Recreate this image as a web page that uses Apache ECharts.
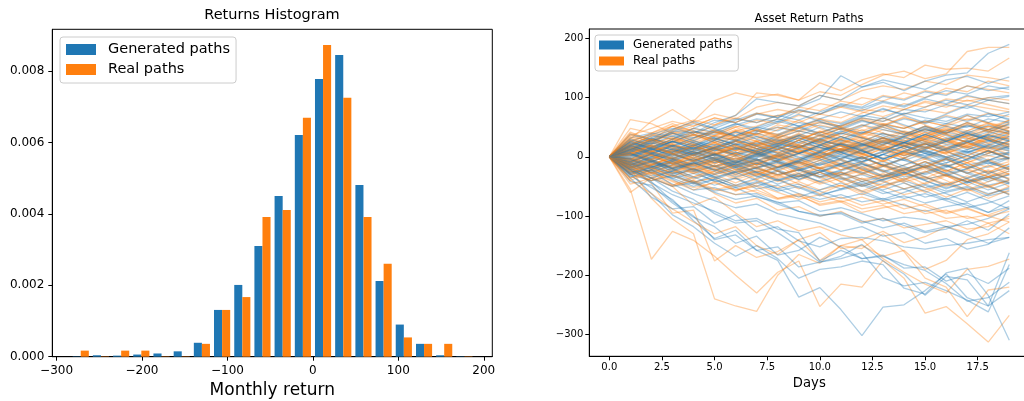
<!DOCTYPE html>
<html><head><meta charset="utf-8">
<script src="https://cdn.jsdelivr.net/npm/echarts@6/dist/echarts.min.js"></script>
<style>html,body{margin:0;padding:0;background:#fff}#c{width:1024px;height:401px}</style>
</head><body><div id="c"></div>
<script>
// ---------- Histogram data ----------
const binEdges = [-283.5,-259.9,-236.2,-212.6,-189.0,-165.3,-141.7,-118.1,-94.4,-70.8,-47.2,-23.5,0.1,23.7,47.4,71.0,94.6,118.3,141.9,165.5,189.2];
const genDensity = [0.00001,0.00004,0.00003,0.00006,0.00009,0.00015,0.00039,0.00131,0.00201,0.0031,0.0045,0.00621,0.00778,0.00845,0.00481,0.00212,0.0009,0.00036,0.00004,0.00001];
const realDensity = [0.00017,0.00001,0.00017,0.00017,0.00001,0.00001,0.00036,0.00131,0.00167,0.00391,0.00411,0.00669,0.00873,0.00725,0.00391,0.0026,0.00054,0.00036,0.00036,0.00001];
const histXTicks = [-300,-200,-100,0,100,200];
const histYTicks = [0,0.002,0.004,0.006,0.008];

// ---------- Paths data ----------
const days = [0,1,2,3,4,5,6,7,8,9,10,11,12,13,14,15,16,17,18,19];
const pathXTicks = [0,2.5,5,7.5,10,12.5,15,17.5];
const pathYTicks = [-300,-200,-100,0,100,200];
const generatedPaths = [
[0,-18,-42,-75,-100,-140,-132,-158,-175,-237,-221,-258,-302,-254,-250,-226,-198,-238,-252,-226],
[0,-28,-62,-98,-118,-146,-168,-150,-172,-205,-190,-186,-176,-182,-222,-232,-196,-188,-234,-310],
[0,-32,-52,-72,-108,-138,-124,-158,-152,-186,-178,-172,-162,-204,-218,-212,-226,-242,-262,-182],
[0,-42,-48,-78,-102,-118,-146,-134,-166,-158,-136,-152,-172,-168,-182,-192,-214,-244,-238,-212],
[0,-14,-36,-58,-72,-96,-112,-108,-128,-152,-178,-168,-148,-176,-198,-234,-202,-208,-252,-162],
[0,-36,-68,-88,-84,-112,-98,-126,-118,-142,-152,-138,-136,-142,-152,-156,-150,-146,-140,-136],
[0,-22,-44,-64,-78,-92,-108,-104,-122,-128,-176,-158,-172,-166,-188,-186,-210,-198,-214,-188],
[0,-12,-28,-46,-62,-74,-86,-80,-96,-104,-112,-126,-118,-134,-128,-146,-138,-156,-148,-120],
[0,8,-6,-26,-42,-58,-52,-68,-76,-92,-98,-96,-112,-104,-116,-128,-122,-108,-124,-96],
[0,-26,-22,-38,-56,-52,-64,-62,-78,-74,-92,-86,-96,-108,-102,-106,-118,-114,-104,-88],
[0,-6,-16,-28,-24,-42,-36,-54,-48,-62,-72,-64,-76,-70,-82,-92,-84,-78,-94,-74],
[0,20,36,30,48,62,58,72,66,84,98,137,118,126,112,128,138,142,175,190],
[0,28,22,44,40,58,70,98,92,86,104,96,118,130,122,114,130,136,124,135],
[0,12,30,24,42,38,54,64,60,78,72,90,84,102,96,110,104,120,112,118],
[0,-4,14,8,26,20,34,44,38,52,62,56,70,64,80,76,88,82,96,90],
[0,18,10,26,20,34,28,42,50,44,58,52,66,60,74,66,60,72,68,76],
[0,32,40,34,48,42,36,50,44,58,52,46,60,54,48,62,56,50,64,58],
[0,6,-8,4,16,10,22,18,30,24,36,30,42,38,34,46,40,52,46,40],
[0,-10,4,-6,8,2,14,8,20,16,10,22,18,28,24,20,32,26,36,30],
[0,14,6,18,12,4,16,10,22,14,26,20,12,24,18,30,22,16,28,22],
[0,-18,-8,-20,-12,-2,-14,-6,4,-8,2,12,6,16,8,2,14,8,20,12],
[0,24,16,8,20,12,4,14,6,-4,8,0,-8,4,-6,6,-2,10,2,8],
[0,-8,-20,-12,-24,-16,-6,-18,-10,-22,-14,-4,-16,-8,-20,-12,-2,-14,-6,-2],
[0,4,16,26,18,30,22,14,26,36,28,40,32,24,36,46,38,30,42,34],
[0,-22,-14,-28,-20,-34,-26,-18,-30,-22,-36,-28,-42,-34,-26,-38,-30,-44,-36,-24],
[0,10,0,-12,-4,-16,-8,-20,-30,-22,-34,-26,-38,-48,-40,-52,-44,-56,-48,-40],
[0,-30,-40,-32,-46,-38,-52,-44,-58,-50,-64,-56,-48,-62,-54,-68,-60,-52,-66,-58],
[0,16,28,40,32,44,56,48,60,52,64,76,68,80,72,84,96,88,100,104],
[0,-14,-2,10,2,-10,-2,-14,-6,6,-4,-16,-8,4,-6,-18,-10,2,-8,-16],
[0,8,20,12,4,16,8,0,12,24,16,8,20,32,24,16,28,40,32,44],
[0,-2,-14,-6,6,14,4,-6,2,-10,-2,10,20,12,2,10,-2,8,18,10],
[0,22,14,26,38,30,42,34,26,38,30,42,54,46,38,50,42,34,46,54],
[0,-26,-18,-6,-16,-4,-14,-26,-18,-8,-20,-12,-2,-14,-24,-16,-28,-20,-10,-20],
[0,12,24,18,6,14,2,12,24,16,28,20,10,22,32,26,14,24,36,28],
[0,-16,-26,-36,-28,-40,-50,-42,-54,-46,-58,-70,-62,-74,-66,-78,-70,-82,-94,-84],
[0,6,-6,-18,-10,-22,-34,-26,-38,-30,-42,-54,-46,-58,-70,-62,-74,-86,-78,-66],
[0,38,30,42,56,48,62,74,66,80,72,86,78,92,84,98,90,104,96,102],
[0,-12,0,12,24,16,28,20,32,44,36,48,40,52,64,56,68,60,72,64],
[0,2,12,4,-6,4,14,6,-4,6,16,8,-2,8,18,10,0,12,22,14],
[0,-20,-32,-24,-36,-28,-16,-28,-40,-32,-22,-34,-46,-38,-28,-40,-52,-44,-34,-46],
[0,18,8,-2,10,20,12,24,16,6,18,28,20,32,24,14,26,38,30,20],
[0,-8,4,-4,-14,-6,-18,-10,-22,-34,-26,-38,-30,-42,-54,-46,-58,-50,-62,-54],
[0,-24,-36,-50,-44,-60,-72,-66,-80,-92,-100,-94,-108,-120,-112,-126,-118,-132,-146,-136],
[0,26,38,48,40,52,64,58,70,62,76,88,82,94,86,100,112,106,120,114],
[0,-4,-16,-10,-22,-14,-26,-20,-8,-18,-30,-24,-12,-22,-34,-28,-16,-26,-38,-30],
[0,12,-4,8,20,6,-10,2,14,-2,10,24,12,-4,8,22,10,-6,6,18],
[0,-16,-4,-20,-8,6,-6,10,-4,-18,-6,8,-8,4,18,6,-10,2,-12,0],
[0,20,32,18,28,14,26,40,28,16,30,44,32,20,34,48,36,24,38,26],
[0,-28,-16,-30,-44,-30,-18,-32,-46,-34,-22,-36,-50,-38,-26,-40,-54,-42,-30,-44],
[0,8,22,36,24,10,22,8,-6,6,20,8,-4,10,24,38,26,12,26,40],
[0,-6,8,-4,-18,-6,-20,-34,-22,-10,-24,-12,0,-14,-28,-16,-4,-18,-6,6],
[0,30,18,6,18,32,20,8,22,36,24,12,26,40,28,16,30,44,32,20],
[0,-12,-26,-14,-2,-16,-30,-18,-6,-20,-34,-22,-10,-24,-38,-26,-14,-28,-42,-30],
[0,4,-10,-24,-12,0,-14,-2,12,0,-14,-2,12,26,14,0,14,28,16,2],
[0,16,4,18,32,46,34,22,36,50,38,26,40,54,42,30,44,58,46,60],
[0,-20,-8,6,-8,-22,-10,4,-10,-24,-12,2,-12,-26,-14,0,-14,-28,-16,-2],
[0,10,24,12,-2,12,26,14,2,16,30,18,6,20,34,22,10,24,38,50],
[0,-34,-22,-8,-22,-36,-24,-10,-24,-38,-26,-12,-26,-40,-28,-14,-28,-42,-56,-44],
[0,2,16,30,44,32,20,34,22,36,50,38,52,66,54,42,56,70,58,72],
[0,-10,-22,-36,-50,-38,-26,-40,-54,-68,-56,-44,-58,-72,-60,-48,-62,-76,-64,-52],
[0,14,28,16,4,-10,2,-12,0,14,2,-12,0,-14,-2,12,0,-14,-28,-16],
[0,-22,-36,-24,-10,4,-8,6,-8,-22,-10,4,-10,4,18,6,20,8,-6,8],
[0,24,12,26,14,2,-12,0,14,28,16,4,18,32,20,8,-6,6,20,34],
[0,-4,-18,-32,-20,-34,-48,-36,-24,-38,-26,-14,-28,-16,-4,-18,-32,-20,-8,-22],
[0,18,32,46,60,48,36,50,64,52,40,54,68,82,70,58,72,86,74,62],
[0,-14,0,14,2,16,30,18,6,20,8,22,10,-4,10,24,12,26,14,28],
[0,6,-8,-22,-10,-24,-12,-26,-40,-28,-42,-30,-18,-32,-20,-34,-48,-36,-50,-64],
[0,26,14,0,14,28,42,30,18,32,20,8,22,36,24,38,52,40,28,16],
[0,-8,6,20,8,-4,-18,-6,-20,-8,6,-6,-20,-34,-22,-8,-22,-36,-24,-38],
[0,0,14,2,16,4,-10,4,18,32,20,34,22,10,24,12,26,40,28,14],
[0,-30,-18,-4,10,-2,-16,-4,-18,-6,8,-4,10,-2,-16,-30,-18,-4,10,-2],
[0,12,26,40,28,42,56,44,58,72,60,48,62,50,38,52,40,54,42,56],
[0,-18,-6,-20,-34,-48,-36,-50,-38,-52,-66,-54,-42,-56,-44,-58,-72,-60,-74,-88],
[0,20,6,-8,6,-6,8,-4,-18,-6,8,22,10,-4,10,-2,-16,-4,10,-4],
[0,-2,12,26,14,28,16,4,18,6,20,34,22,10,24,38,26,40,54,42]
];
const realPaths = [
[0,-55,-173,-126,-141,-168,-200,-230,-195,-176,-253,-215,-220,-175,-205,-264,-253,-282,-313,-268],
[0,-20,-70,-105,-130,-240,-252,-261,-200,-165,-180,-150,-140,-172,-195,-215,-230,-190,-185,-173],
[0,-15,-45,-95,-90,-176,-150,-170,-160,-140,-175,-150,-155,-130,-160,-205,-220,-270,-225,-220],
[0,-40,-62,-88,-110,-130,-118,-150,-165,-140,-128,-155,-150,-168,-158,-190,-175,-140,-130,-110],
[0,-60,-35,-50,-82,-68,-95,-118,-108,-125,-118,-132,-140,-126,-145,-135,-118,-128,-112,-130],
[0,-30,-22,-48,-40,-62,-78,-70,-90,-84,-100,-92,-110,-104,-120,-114,-108,-122,-118,-100],
[0,-8,-28,-20,-42,-36,-56,-50,-70,-64,-82,-76,-94,-86,-80,-96,-90,-104,-98,-86],
[0,63,56,40,52,66,58,72,80,74,90,84,100,94,108,100,116,110,128,120],
[0,30,60,80,58,72,64,84,92,86,104,96,112,120,114,128,122,138,134,128],
[0,22,34,46,60,95,108,100,106,96,110,104,122,138,145,132,140,178,185,185],
[0,10,26,42,36,54,70,108,104,96,125,112,130,140,134,155,148,150,145,167],
[0,40,28,52,44,36,50,62,56,70,64,58,74,86,80,94,88,102,96,90],
[0,18,30,22,36,28,44,38,54,48,60,52,66,60,72,80,74,88,82,76],
[0,-10,6,-4,12,22,14,28,20,34,26,40,32,46,38,52,44,58,50,62],
[0,26,16,30,22,14,28,20,36,28,42,34,26,40,32,48,40,54,46,40],
[0,-4,10,20,12,26,18,10,24,16,30,22,14,28,20,36,28,20,34,26],
[0,14,4,18,8,-2,12,2,16,6,20,10,0,14,24,16,6,20,30,22],
[0,-22,-10,-20,-6,4,-8,6,-4,10,0,14,4,18,8,-2,12,2,16,10],
[0,8,-4,6,-6,4,16,6,18,8,-2,10,22,12,2,14,26,16,6,18],
[0,34,26,38,48,40,52,44,36,48,40,52,64,56,48,60,52,64,58,50],
[0,-12,-24,-14,-26,-16,-28,-18,-8,-20,-10,-22,-12,-24,-14,-4,-16,-6,-18,-8],
[0,-18,-6,-18,-28,-20,-32,-24,-36,-28,-18,-30,-22,-34,-26,-38,-30,-22,-34,-28],
[0,4,-8,-18,-10,-22,-14,-4,-16,-8,-20,-32,-24,-14,-26,-18,-30,-42,-34,-44],
[0,20,30,20,32,42,34,46,38,50,58,50,62,54,66,58,70,62,74,68],
[0,-28,-40,-30,-44,-34,-48,-38,-52,-42,-56,-48,-60,-50,-64,-56,-46,-58,-50,-62],
[0,6,18,10,22,14,6,18,28,20,12,24,34,26,18,30,40,32,24,36],
[0,-6,-18,-8,-20,-30,-22,-12,-24,-34,-26,-16,-28,-38,-30,-20,-32,-42,-34,-24],
[0,12,2,14,4,16,26,18,8,20,10,22,32,24,14,26,16,28,38,30],
[0,48,40,52,62,54,66,58,70,78,72,84,76,68,80,92,84,96,88,80],
[0,-36,-26,-40,-52,-44,-56,-48,-60,-72,-64,-76,-68,-80,-72,-84,-96,-88,-100,-92],
[0,2,14,6,-6,6,-4,8,-2,10,0,12,2,14,4,16,6,18,8,4],
[0,16,8,20,12,24,34,26,38,30,42,50,44,56,48,60,52,44,56,48],
[0,-14,-4,-16,-6,-18,-8,-20,-30,-22,-34,-26,-38,-30,-42,-34,-46,-38,-50,-40],
[0,10,22,32,24,36,28,40,32,44,36,48,40,32,44,36,48,40,52,44],
[0,-24,-14,-2,-12,0,-10,2,-8,4,-6,6,-4,8,-2,10,0,-10,2,-6],
[0,28,38,30,42,34,46,38,50,42,54,46,38,50,42,34,46,38,30,42],
[0,-2,-12,-2,-14,-4,-16,-6,-18,-8,-20,-10,-22,-12,-24,-14,-26,-16,-28,-18],
[0,8,18,28,38,30,44,52,64,58,72,66,80,76,90,84,98,94,100,96],
[0,-46,-36,-50,-40,-54,-64,-56,-70,-62,-76,-68,-82,-74,-88,-80,-94,-86,-100,-110],
[0,20,10,-2,8,-4,6,-6,4,16,6,18,8,20,10,22,12,24,14,26],
[0,-10,-20,-32,-44,-56,-48,-60,-72,-66,-80,-74,-88,-82,-96,-90,-104,-100,-112,-104],
[0,36,48,60,52,66,58,74,68,84,78,94,88,104,98,112,106,120,114,108],
[0,-16,-30,-20,-34,-24,-38,-28,-42,-32,-46,-36,-50,-40,-54,-44,-30,-42,-28,-36],
[0,4,16,6,18,8,20,10,0,12,2,14,4,-6,6,-4,8,-2,10,-2],
[0,-20,-8,4,-8,4,16,6,18,8,20,30,20,32,22,34,24,36,46,38],
[0,-14,2,-12,4,18,6,22,8,-6,10,-4,12,-2,14,30,16,2,18,4],
[0,22,8,24,38,24,10,26,12,28,42,28,14,30,16,32,46,32,18,34],
[0,-26,-12,-28,-14,-30,-44,-30,-16,-32,-18,-34,-48,-34,-20,-36,-22,-38,-52,-38],
[0,6,20,34,20,36,50,36,22,38,24,40,54,40,26,42,28,44,58,44],
[0,-4,-20,-6,-22,-8,6,-10,4,-12,2,-14,0,-16,-2,-18,-4,-20,-6,-22],
[0,16,2,-12,2,16,2,18,32,18,4,20,6,-8,8,22,8,24,10,-4],
[0,-36,-22,-8,-24,-10,-26,-12,2,-14,0,-16,-30,-16,-2,-18,-4,-20,-34,-20],
[0,28,14,30,16,2,18,4,20,36,22,8,24,10,26,42,28,14,30,16],
[0,-10,4,-12,-28,-14,-30,-16,-32,-18,-34,-50,-36,-52,-38,-24,-40,-56,-42,-28],
[0,12,28,14,30,46,32,48,34,20,36,22,38,54,40,26,42,58,44,30],
[0,-20,-36,-22,-38,-24,-10,-26,-12,-28,-44,-30,-16,-32,-18,-34,-50,-36,-22,-38],
[0,2,-14,2,18,4,20,6,-8,8,24,10,26,12,-2,14,30,16,32,18],
[0,38,24,40,26,42,28,14,30,16,32,48,34,20,36,52,38,24,40,56],
[0,-16,-32,-48,-34,-20,-36,-22,-38,-54,-40,-26,-42,-28,-44,-60,-46,-32,-48,-64],
[0,8,-6,10,-4,12,26,14,0,16,30,18,4,20,6,22,38,24,10,26],
[0,-8,8,22,8,24,40,26,12,28,14,30,46,32,18,34,20,36,52,38],
[0,18,4,-10,4,-12,2,-14,0,-16,-2,14,0,-16,-30,-16,-2,-18,-4,-20],
[0,-30,-14,0,-16,-2,-18,-32,-18,-4,-20,-6,-22,-36,-22,-8,-24,-10,-26,-12],
[0,24,40,56,42,28,44,30,46,62,48,34,50,66,52,38,54,70,56,42],
[0,-2,-18,-34,-20,-6,-22,-8,-24,-40,-26,-42,-58,-44,-30,-46,-32,-48,-64,-50],
[0,14,30,16,2,18,34,20,6,22,38,24,10,26,42,28,14,30,46,62],
[0,-12,-28,-14,0,-16,-2,-18,-34,-20,-6,-22,-8,-24,-40,-26,-12,-28,-14,-30],
[0,32,18,4,20,6,22,38,24,40,26,12,28,14,30,46,32,18,34,50],
[0,-6,10,-4,-20,-6,-22,-38,-24,-10,-26,-42,-28,-14,-30,-16,-32,-48,-34,-50],
[0,20,36,52,38,24,10,26,12,28,44,30,16,32,18,34,50,36,22,38],
[0,-24,-40,-26,-12,-28,-14,-30,-16,-2,-18,-4,-20,-6,-22,-8,-24,-10,-26,-12],
[0,4,20,6,-8,8,-6,10,26,12,-2,14,30,16,2,18,4,-10,6,22],
[0,-18,-4,12,-2,14,0,-14,2,18,4,20,6,-8,8,24,10,-4,12,-2],
[0,42,28,44,58,44,30,46,32,48,64,50,36,52,68,54,40,56,42,58],
[0,-40,-26,-42,-56,-42,-58,-44,-30,-46,-62,-48,-64,-50,-36,-52,-68,-54,-70,-56]
];

// ---------- Build chart ----------
const BLUE = '#1f77b4', ORANGE = '#ff7f0e';
const FONT = 'DejaVu Sans';
const minus = s => String(s).replace('-', '\u2212');

function histData(vals, startFrac, endFrac) {
  return vals.map((v, i) => {
    const w = binEdges[i+1] - binEdges[i];
    return [binEdges[i] + startFrac*w, binEdges[i] + endFrac*w, v];
  });
}
function rectRender(color) {
  return function (params, api) {
    const a = api.coord([api.value(0), api.value(2)]);
    const b = api.coord([api.value(1), 0]);
    return { type: 'rect', shape: { x: a[0], y: a[1], width: b[0]-a[0], height: b[1]-a[1] }, style: { fill: color } };
  };
}

const series = [
  { name: 'Generated paths', type: 'custom', xAxisIndex: 0, yAxisIndex: 0, renderItem: rectRender(BLUE),
    itemStyle: { color: BLUE }, encode: { x: [0,1], y: 2 }, data: histData(genDensity, 0.1, 0.5), silent: true },
  { name: 'Real paths', type: 'custom', xAxisIndex: 0, yAxisIndex: 0, renderItem: rectRender(ORANGE),
    itemStyle: { color: ORANGE }, encode: { x: [0,1], y: 2 }, data: histData(realDensity, 0.5, 0.9), silent: true }
];
function pathSeries(p, name, color) {
  return {
    name, type: 'line', xAxisIndex: 1, yAxisIndex: 1, showSymbol: false, symbol: 'none', silent: true,
    itemStyle: { color }, lineStyle: { color, width: 1.3, opacity: 0.36 },
    data: p.map((v, i) => [days[i], v])
  };
}
// interleave drawing order so both colours show through the dense core
const nMax = Math.max(generatedPaths.length, realPaths.length);
for (let i = 0; i < nMax; i++) {
  if (i < generatedPaths.length) series.push(pathSeries(generatedPaths[i], 'Generated paths', BLUE));
  if (i < realPaths.length) series.push(pathSeries(realPaths[i], 'Real paths', ORANGE));
}

const axisCommon = (fs, margin) => ({
  axisLine: { show: true, onZero: false, lineStyle: { color: '#000', width: 1 } },
  axisTick: { show: true, length: 4, lineStyle: { color: '#000', width: 1 } },
  axisLabel: { color: '#000', fontFamily: FONT, fontSize: fs, margin },
  splitLine: { show: false }
});

const option = {
  animation: false,
  backgroundColor: '#fff',
  title: [
    { text: 'Returns Histogram', left: 272, top: 8, textAlign: 'center', padding: 0,
      textStyle: { fontFamily: FONT, fontSize: 14.5, fontWeight: 'normal', color: '#000' } },
    { text: 'Asset Return Paths', left: 809, top: 13, textAlign: 'center', padding: 0,
      textStyle: { fontFamily: FONT, fontSize: 11.6, fontWeight: 'normal', color: '#000' } }
  ],
  legend: [
    { orient: 'vertical', left: 60, top: 37, padding: [5, 6, 6, 6], itemGap: 5,
      itemWidth: 30, itemHeight: 11, icon: 'rect',
      backgroundColor: 'rgba(255,255,255,0.8)', borderColor: '#cccccc', borderWidth: 1, borderRadius: 3,
      textStyle: { fontFamily: FONT, fontSize: 14.5, color: '#000', padding: [0, 0, 0, 7] },
      data: [ { name: 'Generated paths', itemStyle: { color: BLUE, opacity: 1 } },
              { name: 'Real paths', itemStyle: { color: ORANGE, opacity: 1 } } ],
      selectedMode: false },
    { orient: 'vertical', left: 595, top: 35, padding: [4, 6, 4, 4], itemGap: 4,
      itemWidth: 25, itemHeight: 9, icon: 'rect',
      backgroundColor: 'rgba(255,255,255,0.8)', borderColor: '#cccccc', borderWidth: 1, borderRadius: 3,
      textStyle: { fontFamily: FONT, fontSize: 11.8, color: '#000', padding: [0, 0, 0, 4] },
      data: [ { name: 'Generated paths', itemStyle: { color: BLUE, opacity: 1 } },
              { name: 'Real paths', itemStyle: { color: ORANGE, opacity: 1 } } ],
      selectedMode: false }
  ],
  grid: [
    { left: 52.3, top: 29.3, width: 440, height: 327.4, show: true, borderColor: '#000', borderWidth: 1, outerBoundsMode: 'none' },
    { left: 589.3, top: 29, width: 440, height: 327.3, show: true, borderColor: '#000', borderWidth: 1, outerBoundsMode: 'none' }
  ],
  xAxis: [
    Object.assign(axisCommon(12, 8), { type: 'value', gridIndex: 0, min: -305, max: 210,
      name: 'Monthly return', nameLocation: 'middle', nameGap: 24,
      nameTextStyle: { fontFamily: FONT, fontSize: 17, color: '#000' } }),
    Object.assign(axisCommon(10, 6), { type: 'value', gridIndex: 1, min: -0.95, max: 19.95,
      name: 'Days', nameLocation: 'middle', nameGap: 19.5,
      nameTextStyle: { fontFamily: FONT, fontSize: 13.2, color: '#000' } })
  ],
  yAxis: [
    Object.assign(axisCommon(12, 8), { type: 'value', gridIndex: 0, min: 0, max: 0.00917 }),
    Object.assign(axisCommon(10, 6), { type: 'value', gridIndex: 1, min: -337, max: 216 })
  ],
  series
};
option.xAxis[0].axisTick.customValues = histXTicks;
option.xAxis[0].axisLabel.customValues = histXTicks;
option.xAxis[0].axisLabel.formatter = v => minus(v);
option.yAxis[0].axisTick.customValues = histYTicks;
option.yAxis[0].axisLabel.customValues = histYTicks;
option.yAxis[0].axisLabel.formatter = v => Number(v).toFixed(3);
option.xAxis[1].axisTick.customValues = pathXTicks;
option.xAxis[1].axisLabel.customValues = pathXTicks;
option.xAxis[1].axisLabel.formatter = v => Number(v).toFixed(1);
option.yAxis[1].axisTick.customValues = pathYTicks;
option.yAxis[1].axisLabel.customValues = pathYTicks;
option.yAxis[1].axisLabel.formatter = v => minus(v);

const chart = echarts.init(document.getElementById('c'), null, { renderer: 'canvas' });
chart.setOption(option);
</script>
</body></html>
